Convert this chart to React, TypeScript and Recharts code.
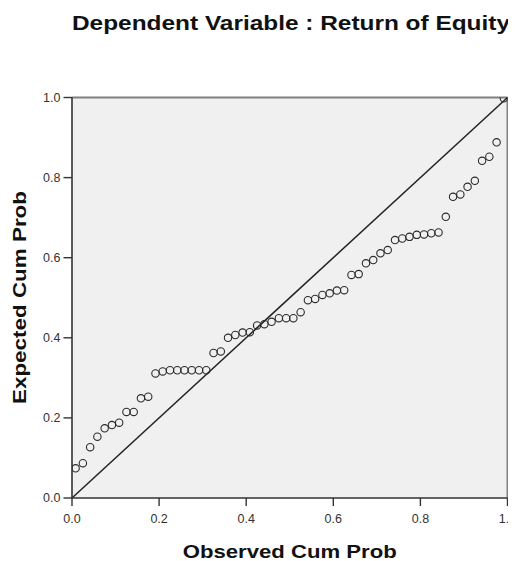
import React from "react";
import {
  ScatterChart,
  Scatter,
  XAxis,
  YAxis,
  CartesianGrid,
  ReferenceLine,
  Label,
} from "recharts";

const titleText = "Dependent Variable : Return of Equity";
const xTitle = "Observed Cum Prob";
const yTitle = "Expected Cum Prob";

const axisTicks = [0, 0.2, 0.4, 0.6, 0.8, 1.0];

const observedCumProb = [
  0.0083, 0.025, 0.0417, 0.0583, 0.075, 0.0917, 0.1083, 0.125, 0.1417, 0.1583,
  0.175, 0.1917, 0.2083, 0.225, 0.2417, 0.2583, 0.275, 0.2917, 0.3083, 0.325,
  0.3417, 0.3583, 0.375, 0.3917, 0.4083, 0.425, 0.4417, 0.4583, 0.475, 0.4917,
  0.5083, 0.525, 0.5417, 0.5583, 0.575, 0.5917, 0.6083, 0.625, 0.6417, 0.6583,
  0.675, 0.6917, 0.7083, 0.725, 0.7417, 0.7583, 0.775, 0.7917, 0.8083, 0.825,
  0.8417, 0.8583, 0.875, 0.8917, 0.9083, 0.925, 0.9417, 0.9583, 0.975, 0.9917,
];

const expectedCumProb = [
  0.074, 0.087, 0.127, 0.153, 0.174, 0.182, 0.188, 0.215, 0.215, 0.249,
  0.253, 0.311, 0.316, 0.319, 0.319, 0.319, 0.319, 0.319, 0.319, 0.362,
  0.366, 0.4, 0.407, 0.413, 0.414, 0.431, 0.434, 0.44, 0.449, 0.449,
  0.449, 0.464, 0.494, 0.497, 0.507, 0.511, 0.518, 0.519, 0.557, 0.559,
  0.586, 0.594, 0.611, 0.619, 0.644, 0.648, 0.652, 0.657, 0.658, 0.661,
  0.663, 0.702, 0.752, 0.758, 0.777, 0.792, 0.842, 0.852, 0.888, 0.998,
];

const data = observedCumProb.map((x, i) => ({ x, y: expectedCumProb[i] }));

const FONT = "'Liberation Sans', Arial, sans-serif";

const Ring = (props: any) => {
  const { cx, cy } = props;
  if (cx == null || cy == null) return null;
  return (
    <circle cx={cx} cy={cy} r={3.7} fill="none" stroke="#2a2a2a" strokeWidth={1.1} />
  );
};

export default function App() {
  const W = 508;
  const H = 553;
  return (
    <div style={{ position: "relative", width: W, height: H }}>
      <ScatterChart
        width={W}
        height={H}
        margin={{ top: 89.5, right: 8.5, left: 0, bottom: 0 }}
      >
        <CartesianGrid
          fill="#f0f0f0"
          stroke="none"
          horizontal={false}
          vertical={false}
        />
        <XAxis
          type="number"
          dataKey="x"
          domain={[0, 1]}
          ticks={axisTicks}
          tickFormatter={(v: number) => v.toFixed(1)}
          height={63}
          tickSize={8}
          tickMargin={8}
          axisLine={{ stroke: "#333", strokeWidth: 1.6 }}
          tickLine={{ stroke: "#333", strokeWidth: 1.4 }}
          tick={{ fill: "#333", fontSize: 12.5, fontFamily: FONT }}
          allowDataOverflow
        >
          <Label
            content={(p: any) => {
              const vb = p.viewBox || {};
              const cx = (vb.x ?? 64) + (vb.width ?? 435.5) / 2;
              return (
                <text
                  x={cx}
                  y={550}
                  textAnchor="middle"
                  fontFamily={FONT}
                  fontWeight="bold"
                  fontSize={18}
                  fill="#111"
                  textLength={214}
                  lengthAdjust="spacingAndGlyphs"
                >
                  {xTitle}
                </text>
              );
            }}
          />
        </XAxis>
        <YAxis
          type="number"
          dataKey="y"
          domain={[0, 1]}
          ticks={axisTicks}
          tickFormatter={(v: number) => v.toFixed(1)}
          width={64}
          tickSize={8.5}
          tickMargin={3}
          axisLine={{ stroke: "#333", strokeWidth: 1.6 }}
          tickLine={{ stroke: "#333", strokeWidth: 1.4 }}
          tick={{ fill: "#333", fontSize: 12.5, fontFamily: FONT }}
          allowDataOverflow
        >
          <Label
            content={() => {
              const x = 18.3;
              const y = 289.5;
              return (
                <text
                  x={x}
                  y={y}
                  transform={`rotate(-90, ${x}, ${y})`}
                  textAnchor="middle"
                  fontFamily={FONT}
                  fontWeight="bold"
                  fontSize={18}
                  fill="#111"
                  textLength={213}
                  lengthAdjust="spacingAndGlyphs"
                >
                  {yTitle}
                </text>
              );
            }}
          />
        </YAxis>
        <ReferenceLine y={1} stroke="#808080" strokeWidth={2} />
        <ReferenceLine x={1} stroke="#808080" strokeWidth={2} />
        <ReferenceLine
          segment={[
            { x: 0, y: 0 },
            { x: 1, y: 1 },
          ]}
          stroke="#222"
          strokeWidth={1.5}
        />
        <Scatter data={data} shape={Ring} isAnimationActive={false} />
      </ScatterChart>
      <svg
        width={W}
        height={40}
        style={{ position: "absolute", left: 0, top: 0, pointerEvents: "none" }}
      >
        <text
          x={64}
          y={22}
          fontFamily={FONT}
          fontWeight="bold"
          fontSize={19.5}
          fill="#111"
          textLength={438}
          lengthAdjust="spacingAndGlyphs"
        >
          {titleText}
        </text>
      </svg>
    </div>
  );
}
